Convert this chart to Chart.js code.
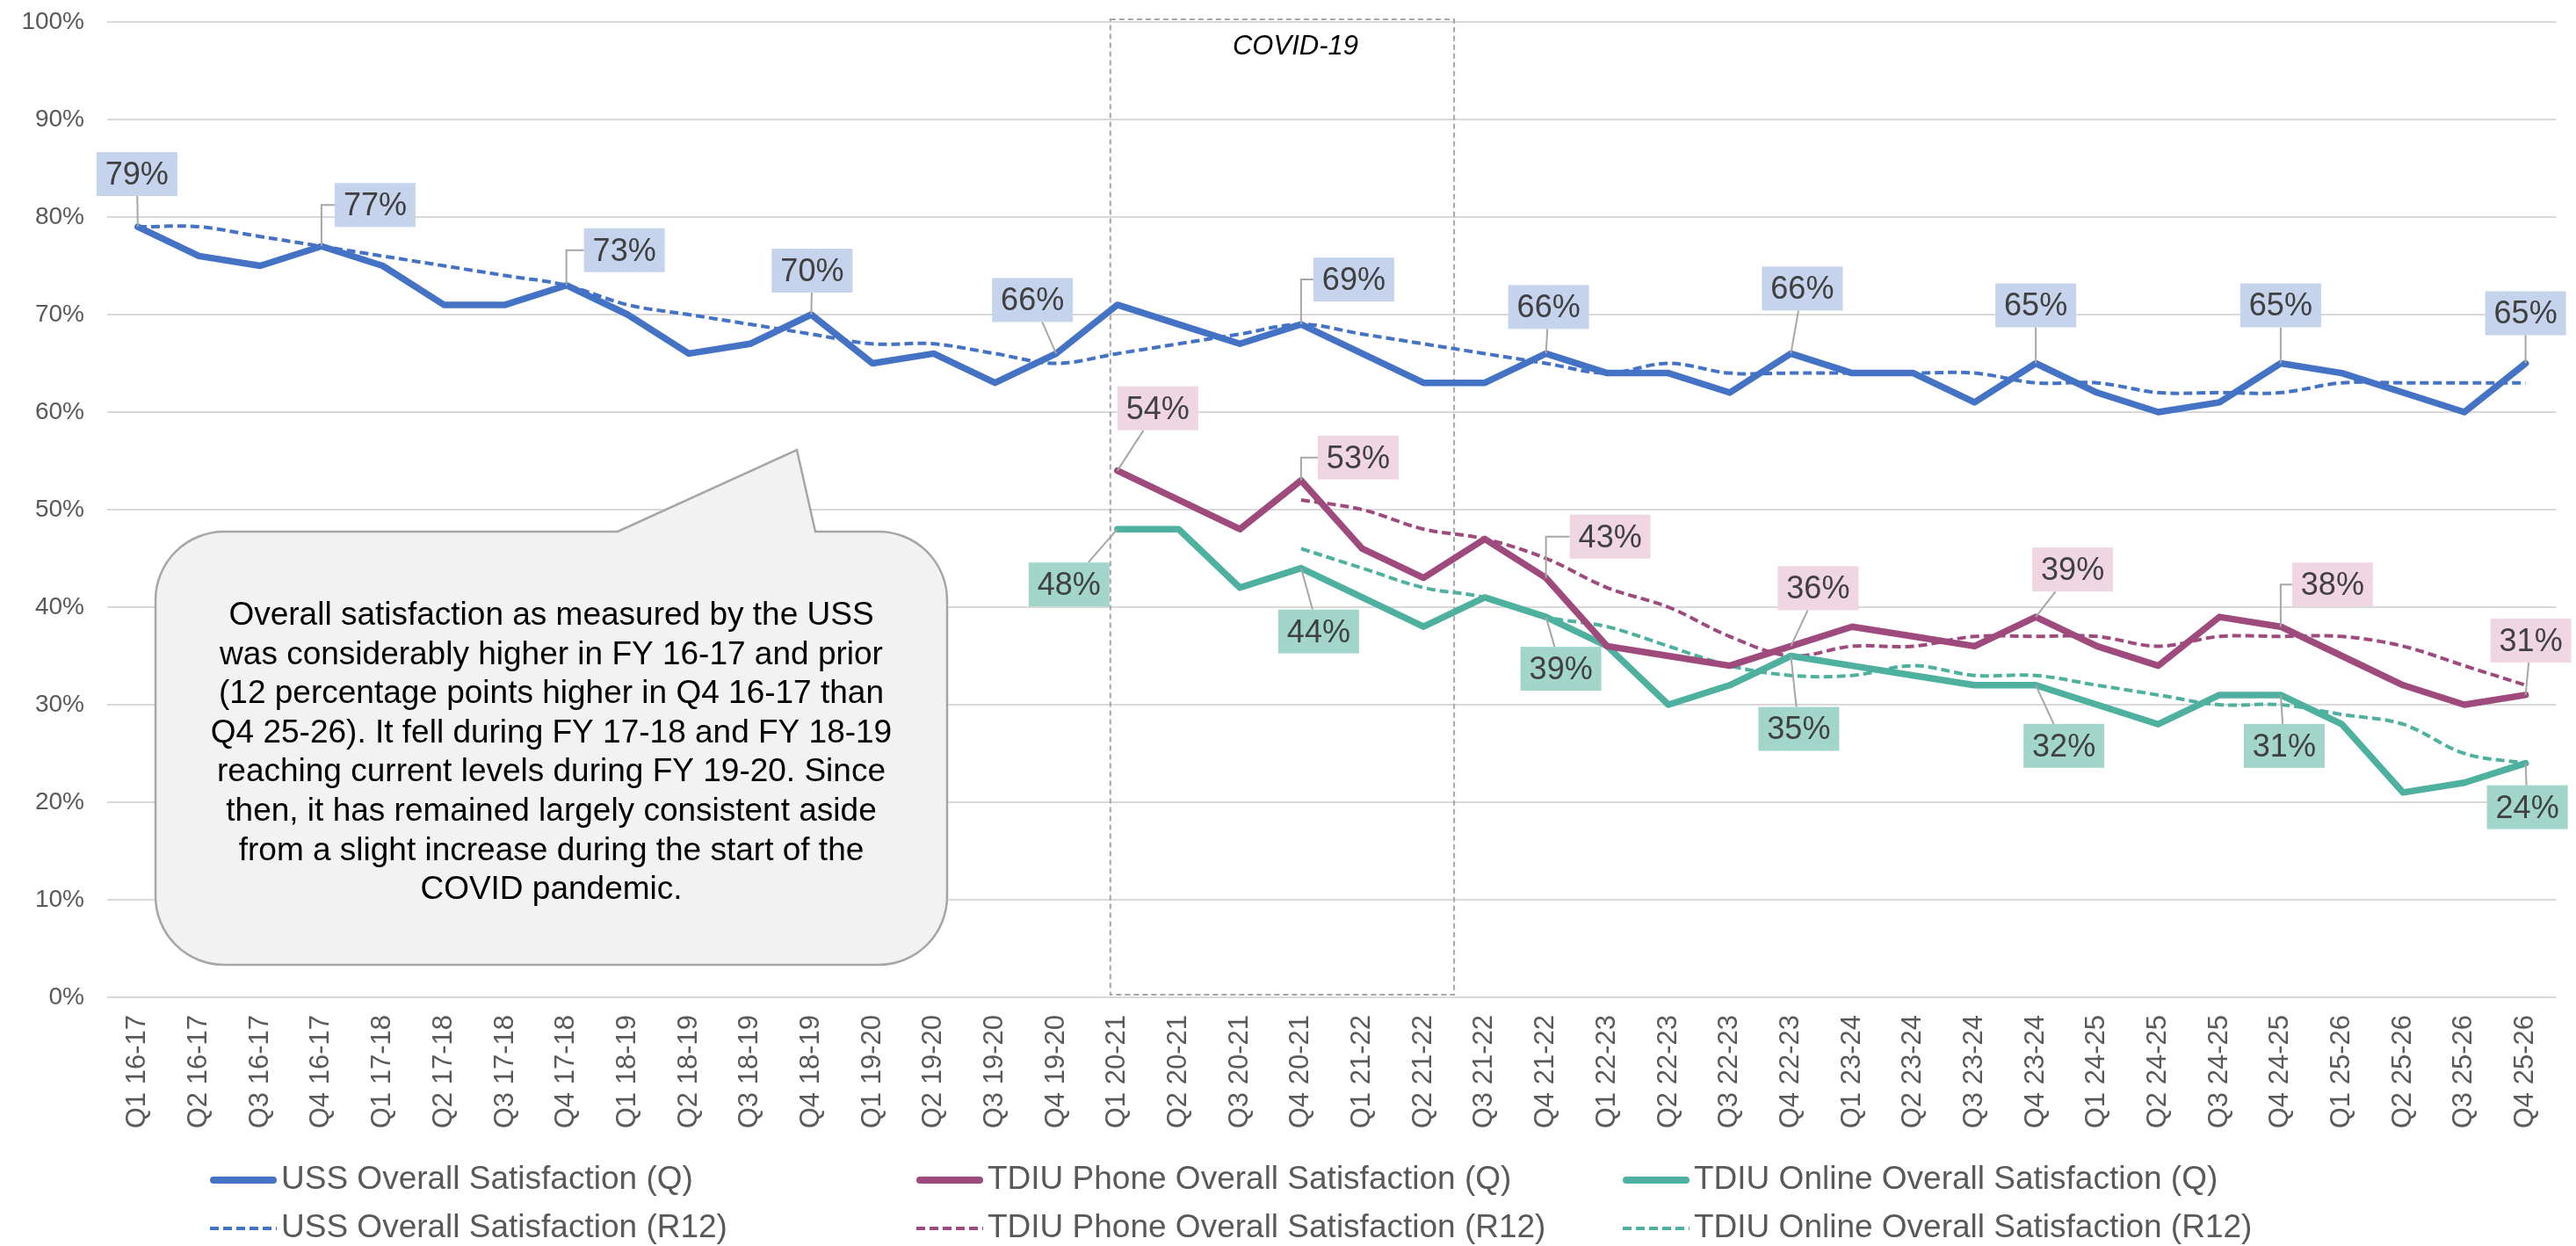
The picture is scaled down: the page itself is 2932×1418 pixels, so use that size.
<!DOCTYPE html>
<html>
<head>
<meta charset="utf-8">
<script src="https://cdn.jsdelivr.net/npm/chart.js@4.4.1/dist/chart.umd.min.js"></script>
<style>
  html, body { margin: 0; padding: 0; background: #fff; }
</style>
</head>
<body>
<canvas id="grafico" width="2932" height="1418"></canvas>
<script>
// Trimestres (eje X)
const trimestres = [
  'Q1 16-17', 'Q2 16-17', 'Q3 16-17', 'Q4 16-17',
  'Q1 17-18', 'Q2 17-18', 'Q3 17-18', 'Q4 17-18',
  'Q1 18-19', 'Q2 18-19', 'Q3 18-19', 'Q4 18-19',
  'Q1 19-20', 'Q2 19-20', 'Q3 19-20', 'Q4 19-20',
  'Q1 20-21', 'Q2 20-21', 'Q3 20-21', 'Q4 20-21',
  'Q1 21-22', 'Q2 21-22', 'Q3 21-22', 'Q4 21-22',
  'Q1 22-23', 'Q2 22-23', 'Q3 22-23', 'Q4 22-23',
  'Q1 23-24', 'Q2 23-24', 'Q3 23-24', 'Q4 23-24',
  'Q1 24-25', 'Q2 24-25', 'Q3 24-25', 'Q4 24-25',
  'Q1 25-26', 'Q2 25-26', 'Q3 25-26', 'Q4 25-26'
];

// Valores (%)
const ussQ = [79, 76, 75, 77, 75, 71, 71, 73, 70, 66, 67, 70, 65, 66, 63, 66,
  71, 69, 67, 69, 66, 63, 63, 66, 64, 64, 62, 66, 64, 64, 61, 65, 62, 60, 61, 65, 64, 62, 60, 65];
const ussR12 = [79, 79, 78, 77, 76, 75, 74, 73, 71, 70, 69, 68, 67, 67, 66, 65,
  66, 67, 68, 69, 68, 67, 66, 65, 64, 65, 64, 64, 64, 64, 64, 63, 63, 62, 62, 62, 63, 63, 63, 63];
const telefonoQ = [null, null, null, null, null, null, null, null, null, null, null, null, null, null, null, null,
  54, 51, 48, 53, 46, 43, 47, 43, 36, 35, 34, 36, 38, 37, 36, 39, 36, 34, 39, 38, 35, 32, 30, 31];
const telefonoR12 = [null, null, null, null, null, null, null, null, null, null, null, null, null, null, null, null,
  null, null, null, 51, 50, 48, 47, 45, 42, 40, 37, 35, 36, 36, 37, 37, 37, 36, 37, 37, 37, 36, 34, 32];
const onlineQ = [null, null, null, null, null, null, null, null, null, null, null, null, null, null, null, null,
  48, 48, 42, 44, 41, 38, 41, 39, 36, 30, 32, 35, 34, 33, 32, 32, 30, 28, 31, 31, 28, 21, 22, 24];
const onlineR12 = [null, null, null, null, null, null, null, null, null, null, null, null, null, null, null, null,
  null, null, null, 46, 44, 42, 41, 39, 38, 36, 34, 33, 33, 34, 33, 33, 32, 31, 30, 30, 29, 28, 25, 24];

const nombres = [
  'USS Overall Satisfaction (Q)', 'TDIU Phone Overall Satisfaction (Q)', 'TDIU Online Overall Satisfaction (Q)',
  'USS Overall Satisfaction (R12)', 'TDIU Phone Overall Satisfaction (R12)', 'TDIU Online Overall Satisfaction (R12)'
];

// Etiquetas de datos: [índice, desplazamiento x, desplazamiento y] en px
const etiquetasUss = [[0, -1, -60], [3, 61, -47], [7, 66, -40], [11, 1, -50], [15, -27, -61], [19, 60, -51],
  [23, 3, -53], [27, 13, -74], [31, 0, -66], [35, 0, -66], [39, 0, -57]];
const etiquetasTelefono = [[16, 46, -71], [19, 65, -26], [23, 73, -47], [27, 31, -66], [31, 42, -54],
  [35, 59, -48], [39, 6, -62]];
const etiquetasOnline = [[16, -55, 63], [19, 20, 72], [23, 17, 59], [27, 9, 83], [31, 32, 69],
  [35, 4, 58], [39, 2, 50]];

const notaTexto = [
  'Overall satisfaction as measured by the USS',
  'was considerably higher in FY 16-17 and prior',
  '(12 percentage points higher in Q4 16-17 than',
  'Q4 25-26). It fell during FY 17-18 and FY 18-19',
  'reaching current levels during FY 19-20. Since',
  'then, it has remained largely consistent aside',
  'from a slight increase during the start of the',
  'COVID pandemic.'
];

const FUENTE = '"Liberation Sans", Arial, sans-serif';
const AZUL = '#4472C4', MORADO = '#9E4A7C', VERDE = '#4EB09E';
const GRIS = '#a6a6a6';

Chart.defaults.font.family = FUENTE;

// Series con etiquetas
const conEtiquetas = [
  { datos: ussQ, etiquetas: etiquetasUss, caja: '#C5D3EC' },
  { datos: telefonoQ, etiquetas: etiquetasTelefono, caja: '#F0D6E3' },
  { datos: onlineQ, etiquetas: etiquetasOnline, caja: '#A2D6CB' }
];

function serieSolida(label, datos, color) {
  return { label, data: datos, borderColor: color, backgroundColor: color, borderWidth: 7.5,
    pointRadius: 0, tension: 0, borderJoinStyle: 'round', borderCapStyle: 'round', order: 0 };
}
function serieR12(label, datos, color) {
  return { label, data: datos, borderColor: color, backgroundColor: color, borderWidth: 4,
    borderDash: [10, 5], pointRadius: 0, tension: 0.35, order: 1 };
}

// Recuadro COVID-19
const pluginCovid = {
  id: 'covid',
  beforeDatasetsDraw(chart) {
    const ctx = chart.ctx, x = chart.scales.x, y = chart.scales.y;
    const paso = x.getPixelForValue(1) - x.getPixelForValue(0);
    const l = x.getPixelForValue(16) - 8, r = x.getPixelForValue(21) + paso / 2;
    const t = y.getPixelForValue(100) - 3, b = y.getPixelForValue(0) - 3;
    ctx.save();
    ctx.strokeStyle = GRIS; ctx.lineWidth = 2; ctx.setLineDash([6, 4]);
    ctx.strokeRect(l, t, r - l, b - t);
    ctx.setLineDash([]);
    ctx.fillStyle = '#000';
    ctx.font = 'italic 31px ' + FUENTE;
    ctx.textAlign = 'center'; ctx.textBaseline = 'alphabetic';
    ctx.fillText('COVID-19', (l + r) / 2 + 15, t + 40);
    ctx.restore();
  }
};

// Etiquetas con líneas guía
const pluginEtiquetas = {
  id: 'etiquetas',
  afterDatasetsDraw(chart) {
    const ctx = chart.ctx, x = chart.scales.x, y = chart.scales.y;
    const w = 92, h = 50;
    ctx.save();
    conEtiquetas.forEach(s => {
      s.etiquetas.forEach(([i, dx, dy]) => {
        const v = s.datos[i];
        const px = x.getPixelForValue(i), py = y.getPixelForValue(v);
        const cx = px + dx, cy = py + dy;
        const l = cx - w / 2, t = cy - h / 2, b = cy + h / 2;
        ctx.strokeStyle = GRIS; ctx.lineWidth = 2;
        ctx.beginPath();
        if (px < l - 5 && b < py) {
          ctx.moveTo(px, py); ctx.lineTo(px, cy); ctx.lineTo(l, cy);
        } else {
          const ddx = cx - px, ddy = cy - py;
          let tt = Infinity;
          if (ddx !== 0) tt = Math.min(tt, Math.abs((w / 2) / ddx));
          if (ddy !== 0) tt = Math.min(tt, Math.abs((h / 2) / ddy));
          if (tt < 1) { ctx.moveTo(px, py); ctx.lineTo(cx - ddx * tt, cy - ddy * tt); }
        }
        ctx.stroke();
        ctx.fillStyle = s.caja;
        ctx.fillRect(l, t, w, h);
        ctx.fillStyle = '#404040';
        ctx.font = '36px ' + FUENTE;
        ctx.textAlign = 'center'; ctx.textBaseline = 'middle';
        ctx.fillText(v + '%', cx, cy + 2);
      });
    });
    ctx.restore();
  }
};

// Globo de texto y leyenda
const pluginExtras = {
  id: 'extras',
  afterDraw(chart) {
    const ctx = chart.ctx;
    ctx.save();
    // globo
    const l = 177, t = 605, r = 1078, b = 1098, rad = 78;
    ctx.beginPath();
    ctx.moveTo(l + rad, t);
    ctx.lineTo(703, t); ctx.lineTo(907, 512); ctx.lineTo(928, t);
    ctx.lineTo(r - rad, t); ctx.arcTo(r, t, r, t + rad, rad);
    ctx.lineTo(r, b - rad); ctx.arcTo(r, b, r - rad, b, rad);
    ctx.lineTo(l + rad, b); ctx.arcTo(l, b, l, b - rad, rad);
    ctx.lineTo(l, t + rad); ctx.arcTo(l, t, l + rad, t, rad);
    ctx.closePath();
    ctx.fillStyle = '#f2f2f2'; ctx.fill();
    ctx.strokeStyle = GRIS; ctx.lineWidth = 2.5; ctx.stroke();
    ctx.fillStyle = '#000';
    ctx.font = '37px ' + FUENTE;
    ctx.textAlign = 'center'; ctx.textBaseline = 'alphabetic';
    notaTexto.forEach((linea, k) => ctx.fillText(linea, (l + r) / 2, 711 + k * 44.6));

    // leyenda (3 columnas x 2 filas)
    const cols = [239, 1043, 1847], filas = [1343, 1398];
    chart.data.datasets.forEach((ds, k) => {
      const x0 = cols[k % 3], y0 = filas[Math.floor(k / 3)];
      ctx.strokeStyle = ds.borderColor;
      ctx.beginPath();
      if (ds.borderDash) {
        ctx.lineWidth = 4; ctx.lineCap = 'butt'; ctx.setLineDash([10, 5]);
        ctx.moveTo(x0, y0); ctx.lineTo(x0 + 76, y0);
      } else {
        ctx.lineWidth = 8; ctx.lineCap = 'round'; ctx.setLineDash([]);
        ctx.moveTo(x0 + 4, y0); ctx.lineTo(x0 + 72, y0);
      }
      ctx.stroke();
      ctx.setLineDash([]);
      ctx.fillStyle = '#595959';
      ctx.font = '37px ' + FUENTE;
      ctx.textAlign = 'left'; ctx.textBaseline = 'middle';
      ctx.fillText(ds.label, x0 + 81, y0);
    });
    ctx.restore();
  }
};

const ctx = document.getElementById('grafico').getContext('2d');
new Chart(ctx, {
  type: 'line',
  data: {
    labels: trimestres,
    datasets: [
      serieSolida(nombres[0], ussQ, AZUL),
      serieSolida(nombres[1], telefonoQ, MORADO),
      serieSolida(nombres[2], onlineQ, VERDE),
      serieR12(nombres[3], ussR12, AZUL),
      serieR12(nombres[4], telefonoR12, MORADO),
      serieR12(nombres[5], onlineR12, VERDE)
    ]
  },
  options: {
    responsive: false,
    animation: false,
    devicePixelRatio: 1,
    layout: { padding: { top: 25, right: 15, bottom: 108, left: 0 } },
    plugins: { legend: { display: false }, tooltip: { enabled: false } },
    scales: {
      x: {
        offset: true,
        grid: { display: false, drawTicks: false },
        border: { display: false },
        ticks: { autoSkip: false, maxRotation: 90, minRotation: 90, padding: 20,
          color: '#595959', font: { size: 31 } },
        afterFit(scale) { scale.height = 175; }
      },
      y: {
        min: 0, max: 100,
        grid: { color: '#d9d9d9', lineWidth: 2, drawTicks: false },
        border: { display: false },
        ticks: { stepSize: 10, padding: 26, color: '#595959', font: { size: 28 },
          callback: v => v + '%' },
        afterFit(scale) {
          scale.width = 122;
          // sin relleno extra arriba: el área empieza en 100%
          scale.paddingTop = 0;
          scale.paddingBottom = 0;
        }
      }
    }
  },
  plugins: [pluginCovid, pluginEtiquetas, pluginExtras]
});
</script>
</body>
</html>
